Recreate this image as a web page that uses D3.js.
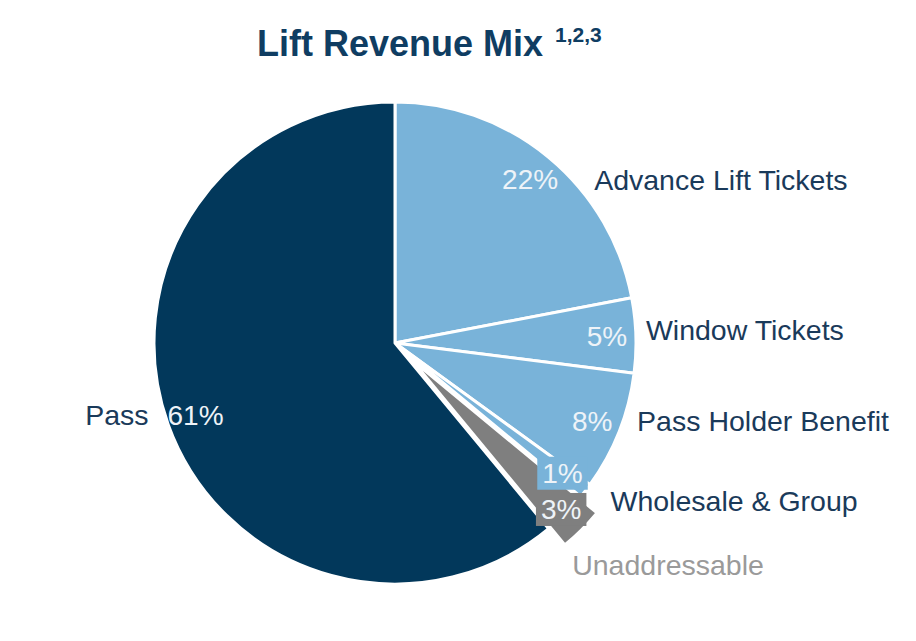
<!DOCTYPE html>
<html>
<head>
<meta charset="utf-8">
<script src="https://cdn.jsdelivr.net/npm/d3@7"></script>
<style>
  body { margin: 0; background: #fff; }
  text { font-family: 'Liberation Sans', Arial, sans-serif; }
</style>
</head>
<body>
<svg id="canvas" width="916" height="641"></svg>
<script>
// data
var categories = ['Advance Lift Tickets', 'Window Tickets', 'Pass Holder Benefit', 'Wholesale & Group', 'Unaddressable', 'Pass'];
var values = [22, 5, 8, 1, 3, 61];
var exploded = ['Unaddressable'];
var boxedLabels = ['Wholesale & Group', 'Unaddressable'];

// layout
var width = 916, height = 641;
var cx = 395, cy = 343, radius = 241, labelRadius = 212, explodeBy = 23;
// nudge of the category name relative to the percent label
var nameNudge = {
  'Advance Lift Tickets': [64, 0, 'start'],
  'Window Tickets': [39, -6, 'start'],
  'Pass Holder Benefit': [45, 0, 'start'],
  'Wholesale & Group': [48, 28, 'start'],
  'Unaddressable': [11, 56, 'start'],
  'Pass': [-47, 0, 'end']
};

var color = d3.scaleOrdinal().domain(categories)
  .range(['#79b3d9', '#79b3d9', '#79b3d9', '#79b3d9', '#7f7f7f', '#02385b']);

var svg = d3.select('#canvas');

// ************************************************************************************** //
// Title

var title = svg.append('text').attr('x', 257).attr('y', 56)
  .style('font-size', '36px').style('font-weight', 'bold').style('fill', '#0f3d62');
title.append('tspan').text('Lift Revenue Mix');
title.append('tspan').attr('dx', 12).attr('dy', -14).style('font-size', '21px').text('1,2,3');

// ************************************************************************************** //
// Pie

var pie = d3.pie().sort(null).value(d => d.value);
var arcs = pie(categories.map((c, i) => ({ name: c, value: values[i] })));
var arcGen = d3.arc().innerRadius(0).outerRadius(radius);
var labelArc = d3.arc().innerRadius(labelRadius).outerRadius(labelRadius);

function shift(d){
  if (exploded.indexOf(d.data.name) < 0) return [0, 0];
  var a = (d.startAngle + d.endAngle) / 2;
  return [explodeBy * Math.sin(a), -explodeBy * Math.cos(a)];
}

var origin = svg.append('g').attr('transform', 'translate(' + cx + ',' + cy + ')');

origin.selectAll('path.slice').data(arcs).enter().append('path')
  .attr('class', 'slice')
  .attr('d', arcGen)
  .attr('transform', d => 'translate(' + shift(d) + ')')
  .style('fill', d => color(d.data.name))
  .style('stroke', '#fff').style('stroke-width', 3).style('stroke-linejoin', 'round');

// percent labels
var pct = origin.selectAll('g.pct').data(arcs).enter().append('g')
  .attr('class', 'pct')
  .attr('transform', d => {
    var c = labelArc.centroid(d), s = shift(d);
    return 'translate(' + (c[0] + s[0]) + ',' + (c[1] + s[1]) + ')';
  });

pct.append('text')
  .attr('text-anchor', 'middle').attr('dy', '0.35em')
  .style('font-size', '28px').style('fill', '#eef3f8')
  .text(d => d.data.value + '%');

pct.filter(d => boxedLabels.indexOf(d.data.name) >= 0).each(function(d){
  var g = d3.select(this), bb = g.select('text').node().getBBox();
  g.insert('rect', 'text')
    .attr('x', bb.x - 5).attr('y', bb.y - 1)
    .attr('width', bb.width + 10).attr('height', bb.height + 2)
    .style('fill', color(d.data.name));
});

// category names
pct.append('text')
  .attr('x', d => nameNudge[d.data.name][0])
  .attr('y', d => nameNudge[d.data.name][1])
  .attr('dy', '0.35em')
  .attr('text-anchor', d => nameNudge[d.data.name][2])
  .style('font-size', '28.5px')
  .style('fill', d => d.data.name === 'Unaddressable' ? '#9a9a9a' : '#1a3a5a')
  .text(d => d.data.name);
</script>
</body>
</html>
